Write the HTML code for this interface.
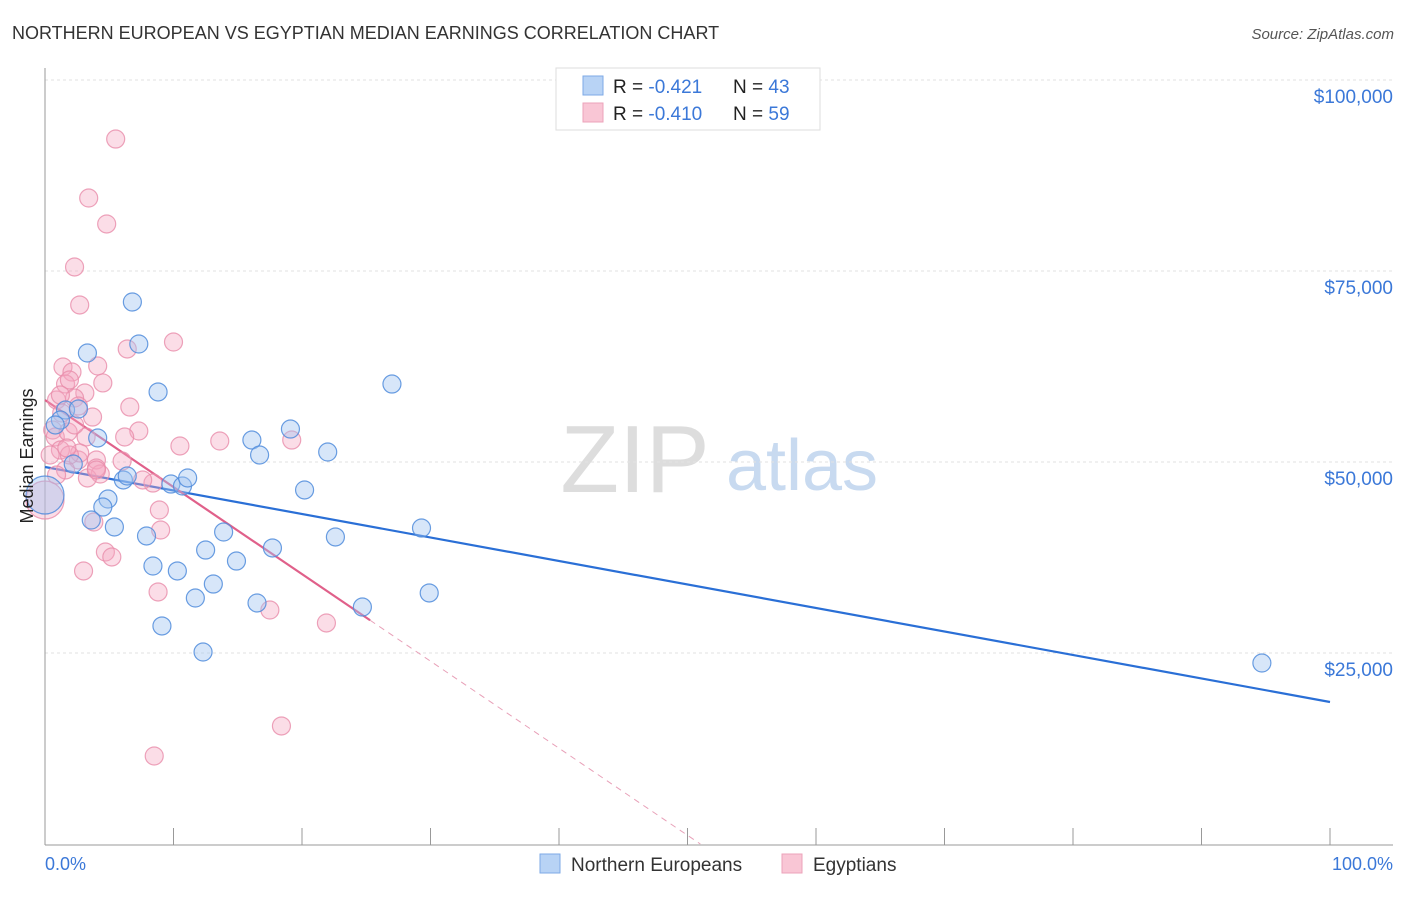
<!DOCTYPE html>
<html><head><meta charset="utf-8">
<style>
body{margin:0;background:#fff;font-family:"Liberation Sans",sans-serif;}
svg text{font-family:"Liberation Sans",sans-serif;}
</style></head>
<body>
<svg id="chart" width="1406" height="892" viewBox="0 0 1406 892" xmlns="http://www.w3.org/2000/svg">
<text x="12" y="39" font-size="18" fill="#333">NORTHERN EUROPEAN VS EGYPTIAN MEDIAN EARNINGS CORRELATION CHART</text>
<text x="1394" y="39" font-size="15" fill="#555" font-style="italic" text-anchor="end">Source: ZipAtlas.com</text>
<text x="635" y="492" font-size="96" fill="#ddd" font-family="Liberation Serif" text-anchor="middle">ZIP</text>
<text x="802" y="490" font-size="72" fill="#c8daf0" text-anchor="middle">atlas</text>
<g id="grid"></g>
<g id="axes"></g>
<g id="trends"></g>
<g id="points"></g>
<text transform="translate(33,456) rotate(-90)" font-size="18" fill="#222" text-anchor="middle">Median Earnings</text>
<text x="45" y="870" font-size="18" fill="#3b78d8">0.0%</text>
<text x="1393" y="870" font-size="18" fill="#3b78d8" text-anchor="end">100.0%</text>
<g>
<rect x="556" y="68" width="264" height="62" fill="#fff" stroke="#ddd"/>
<rect x="583" y="76" width="20" height="19" fill="#b8d3f5" stroke="#7eaae6"/>
<rect x="583" y="103" width="20" height="19" fill="#f9c6d5" stroke="#eca3ba"/>
<text x="613" y="93" font-size="19" fill="#222">R = <tspan fill="#3b78d8">-0.421</tspan></text>
<text x="733" y="93" font-size="19" fill="#222">N = <tspan fill="#3b78d8">43</tspan></text>
<text x="613" y="120" font-size="19" fill="#222">R = <tspan fill="#3b78d8">-0.410</tspan></text>
<text x="733" y="120" font-size="19" fill="#222">N = <tspan fill="#3b78d8">59</tspan></text>
</g>
<g>
<rect x="540" y="854" width="20" height="19" fill="#b8d3f5" stroke="#7eaae6"/>
<text x="571" y="871" font-size="19" fill="#333">Northern Europeans</text>
<rect x="782" y="854" width="20" height="19" fill="#f9c6d5" stroke="#eca3ba"/>
<text x="813" y="871" font-size="19" fill="#333">Egyptians</text>
</g>
</svg>
<script>
const yTicks=[25000,50000,75000,100000];
const yTickLabels=["$25,000","$50,000","$75,000","$100,000"];
const xTicks=[0,10,20,30,40,50,60,70,80,90,100];
const blueX=[6.8,7.3,3.3,8.8,27.0,1.6,2.6,4.1,1.2,16.1,16.7,19.1,22.0,9.8,10.7,11.1,6.1,6.4,20.2,4.9,4.5,3.6,5.4,7.9,13.9,12.5,14.9,17.7,22.6,29.3,8.4,10.3,13.1,11.7,16.5,24.7,29.9,9.1,12.3,94.7,0,2.2,0.8];
const blueY=[70950,65450,64270,59170,60210,56810,56940,53150,55500,52880,50920,54320,51310,47120,46860,47910,47650,48170,46340,45160,44110,42410,41500,40320,40840,38480,37040,38750,40190,41360,36390,35740,34030,32200,31550,31020,32860,28540,25130,23690,45680,49740,54850];
const blueSize=[1,1,1,1,1,1,1,1,1,1,1,1,1,1,1,1,1,1,1,1,1,1,1,1,1,1,1,1,1,1,1,1,1,1,1,1,1,1,1,1,2,1,1];
const pinkX=[5.5,3.4,4.8,2.3,2.7,10.0,6.4,1.4,2.1,4.1,4.5,1.6,1.9,3.1,2.3,6.6,0.9,3.7,2.6,1.3,0.6,0.8,1.8,7.3,6.2,10.5,13.6,19.2,3.2,1.2,2.6,2.7,4.0,6.0,4.3,3.3,4.0,1.6,0.9,8.4,8.9,9.0,3.8,4.7,5.2,3.0,8.8,17.5,21.9,18.4,8.5,0,0.4,2.3,1.9,1.2,1.7,7.6,4.0];
const pinkY=[92280,84560,81160,75530,70560,65710,64800,62440,61780,62570,60350,60210,60740,59040,58380,57200,58120,55890,57330,56420,54190,53280,53930,54060,53280,52100,52750,52880,53280,51570,50270,51180,50270,50130,48430,47910,49220,48960,48300,47250,43720,41100,42150,38220,37570,35740,32990,30630,28930,15450,11520,45030,50920,54850,50920,58770,51840,47650,48960];
const pinkSize=pinkX.map((_,i)=>i===51?2:1);
const blueTrend=[49350,18590];
const pinkTrend=[58120,0];
const pinkSolidEnd=25.3;

const NS="http://www.w3.org/2000/svg";
const X=v=>45+v*12.85;
const Y=v=>844-v/130.9;
function mk(tag,attrs,parent){const e=document.createElementNS(NS,tag);for(const k in attrs)e.setAttribute(k,attrs[k]);parent.appendChild(e);return e;}
const grid=document.getElementById('grid'),axes=document.getElementById('axes'),trends=document.getElementById('trends'),pts=document.getElementById('points');
yTicks.forEach((t,i)=>{
 const l=mk('line',{x1:45,x2:1393,y1:Y(t),y2:Y(t),stroke:'#e2e2e2','stroke-dasharray':'3,3'},grid);
 
 
 const tx=mk('text',{x:1393,y:Y(t)+23,'font-size':19,fill:'#3b78d8','text-anchor':'end'},grid);
 tx.textContent=yTickLabels[i];
 
 
});
const ya=mk('line',{x1:45,x2:45,y1:68,y2:845,stroke:'#999'},axes);


const xa=mk('line',{x1:45,x2:1393,y1:845,y2:845,stroke:'#999'},axes);


xTicks.forEach(t=>{
 const l=mk('line',{x1:X(t),x2:X(t),y1:828,y2:845,stroke:'#999'},axes);
 
 
});
function drawPts(xs,ys,sz,fill,stroke,name){
 xs.forEach((x,i)=>{
  const c=mk('circle',{cx:X(x),cy:Y(ys[i]),r:sz[i]===2?19:9,fill:fill,stroke:stroke,'stroke-width':1.2},pts);
  
  
 });
}
drawPts(pinkX,pinkY,pinkSize,'rgba(244,165,192,0.38)','rgba(232,140,170,0.8)','egyptian-point');
drawPts(blueX,blueY,blueSize,'rgba(160,196,240,0.42)','rgba(80,140,220,0.85)','northern-european-point');
const bt=mk('line',{x1:X(0),y1:Y(blueTrend[0]),x2:X(100),y2:Y(blueTrend[1]),stroke:'#2a6fd6','stroke-width':2.2},trends);


const pAt=x=>pinkTrend[0]+(pinkTrend[1]-pinkTrend[0])*x/51;
const pt=mk('line',{x1:X(0),y1:Y(pAt(0)),x2:X(pinkSolidEnd),y2:Y(pAt(pinkSolidEnd)),stroke:'#e0608a','stroke-width':2.2},trends);


const pd=mk('line',{x1:X(pinkSolidEnd),y1:Y(pAt(pinkSolidEnd)),x2:X(51),y2:Y(0),stroke:'#e8a0b8','stroke-width':1,'stroke-dasharray':'6,5'},trends);


</script>
</body></html>
